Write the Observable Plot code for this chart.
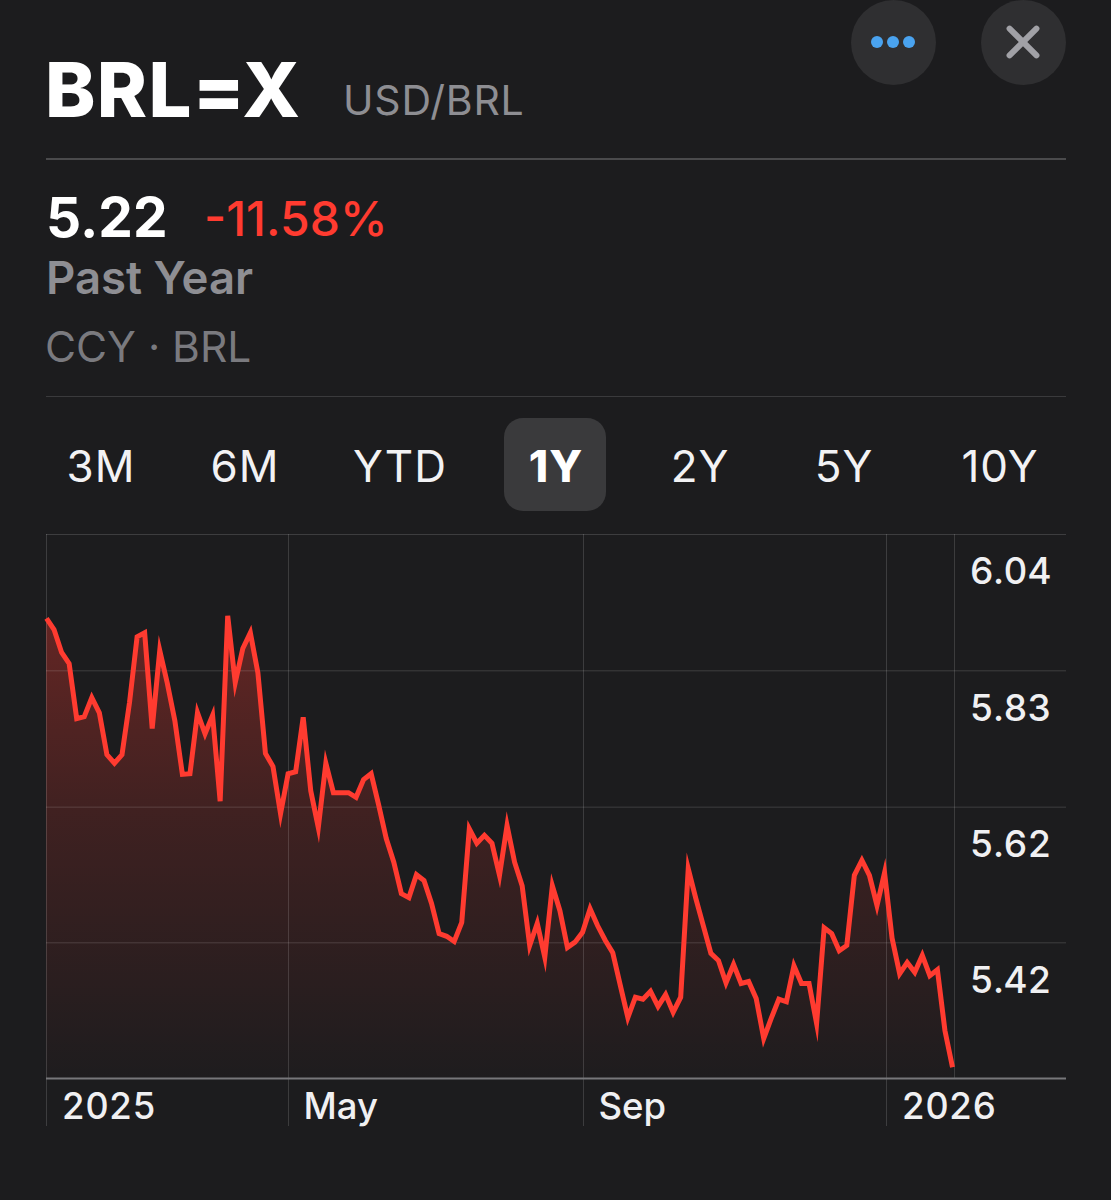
<!DOCTYPE html>
<html>
<head>
<meta charset="utf-8">
<script src="https://cdn.jsdelivr.net/npm/d3@7"></script>
<script src="https://cdn.jsdelivr.net/npm/@observablehq/plot@0.6"></script>
<style>
html,body{margin:0;padding:0;background:#1c1c1e;}
body{width:1111px;height:1200px;overflow:hidden;font-family:Inter,"Noto Sans",sans-serif;}
#header{position:relative;width:1111px;height:530px;}
#header .t{position:absolute;white-space:nowrap;line-height:1;}
.rule{position:absolute;left:46px;width:1020px;}
.circle{position:absolute;top:0;width:85px;height:85px;border-radius:50%;background:#2f2f31;}
.dot{position:absolute;top:36px;width:12px;height:12px;border-radius:50%;background:#4aa3ef;}
.bar{position:absolute;left:39px;top:20px;width:6px;height:44px;border-radius:3px;background:#a1a1a6;}
.sel{position:absolute;left:504px;top:418px;width:102px;height:93px;border-radius:19px;background:#3a3a3c;}
.rng{font-size:44px;font-weight:400;color:#f2f2f4;transform:translateX(-50%);top:444px;letter-spacing:1px;}
#chart{position:absolute;left:-1px;top:530px;}
#chart svg{display:block;}
</style>
</head>
<body>
<div id="header">
  <div class="circle" style="left:851px">
    <div class="dot" style="left:20px"></div><div class="dot" style="left:36px"></div><div class="dot" style="left:52px"></div>
  </div>
  <div class="circle" style="left:981px">
    <div class="bar" style="transform:rotate(45deg)"></div><div class="bar" style="transform:rotate(-45deg)"></div>
  </div>
  <div class="t" style="left:45px;top:51px;font-size:76px;font-weight:800;color:#fff;letter-spacing:1.3px">BRL=X</div>
  <div class="t" style="left:343px;top:80px;font-size:41px;color:#8e8e93;letter-spacing:0.8px">USD/BRL</div>
  <div class="rule" style="top:158px;height:2px;background:#4a4a4c"></div>
  <div class="t" style="left:46px;top:190px;font-size:55px;font-weight:700;color:#fff;">5.22</div>
  <div class="t" style="left:204px;top:195px;font-size:48px;font-weight:500;color:#ff3b30;">-11.58%</div>
  <div class="t" style="left:46px;top:255px;font-size:45.5px;font-weight:600;color:#8e8e93;">Past Year</div>
  <div class="t" style="left:45px;top:326px;font-size:42.5px;color:#7a7a7f;">CCY · BRL</div>
  <div class="rule" style="top:396px;height:1px;background:#3a3a3c"></div>
  <div class="sel"></div>
  <div class="t rng" style="left:101px">3M</div>
  <div class="t rng" style="left:245px">6M</div>
  <div class="t rng" style="left:400px">YTD</div>
  <div class="t rng" style="left:556px;font-weight:800;color:#fff">1Y</div>
  <div class="t rng" style="left:700px">2Y</div>
  <div class="t rng" style="left:844px">5Y</div>
  <div class="t rng" style="left:1000px">10Y</div>
</div>
<div id="chart"></div>
<script>
// USD/BRL close per session
const closes = [
  5.912,5.895,5.860,5.843,5.759,5.762,5.791,5.768,5.704,5.691,
  5.704,5.784,5.884,5.890,5.744,5.863,5.813,5.756,5.674,5.675,
  5.768,5.736,5.764,5.633,5.916,5.814,5.866,5.890,5.829,5.706,
  5.686,5.614,5.675,5.678,5.761,5.649,5.593,5.691,5.646,5.646,
  5.646,5.639,5.666,5.675,5.627,5.576,5.540,5.492,5.486,5.521,
  5.512,5.477,5.431,5.427,5.419,5.448,5.591,5.569,5.581,5.569,
  5.520,5.596,5.540,5.504,5.413,5.447,5.395,5.504,5.466,5.410,
  5.418,5.433,5.469,5.443,5.421,5.402,5.352,5.303,5.334,5.331,
  5.343,5.320,5.338,5.311,5.334,5.530,5.485,5.443,5.401,5.390,
  5.356,5.384,5.355,5.358,5.332,5.271,5.302,5.331,5.327,5.382,
  5.355,5.355,5.294,5.440,5.431,5.405,5.413,5.520,5.543,5.520,
  5.474,5.524,5.424,5.370,5.387,5.372,5.398,5.367,5.376,5.283,
  5.227
];
const sessions = closes.map((_, i) => i);
const rows = sessions.map(i => ({session: i, close: closes[i]}));

const yTicks = [6.04, 5.832, 5.624, 5.417];
const yFloor = 5.21;
const xTicks = [0, 32.05, 71.13, 111.26];
const xLabels = ["2025", "May", "Sep", "2026"];
const xEdge = 120.26;       // session where the price column begins
const xMax = 135.1;

const red = "#ff3b30";
const labelFont = {fontWeight: 500, fill: "#f0f0f2", fontFamily: "Inter, sans-serif"};

const gradient = () => {
  const ns = "http://www.w3.org/2000/svg";
  const defs = document.createElementNS(ns, "defs");
  const g = document.createElementNS(ns, "linearGradient");
  g.setAttribute("id", "fade");
  g.setAttribute("x1", 0); g.setAttribute("x2", 0);
  g.setAttribute("y1", 0); g.setAttribute("y2", 1);
  [[0, 0.32], [0.45, 0.15], [1, 0.01]].forEach(([o, a]) => {
    const s = document.createElementNS(ns, "stop");
    s.setAttribute("offset", o);
    s.setAttribute("stop-color", red);
    s.setAttribute("stop-opacity", a);
    g.appendChild(s);
  });
  defs.appendChild(g);
  return defs;
};

const chart = Plot.plot({
  width: 1112,
  height: 600,
  marginLeft: 47,
  marginRight: 45,
  marginTop: 4,
  marginBottom: 52,
  style: {background: "transparent", overflow: "visible"},
  x: {type: "linear", domain: [0, xMax]},
  y: {type: "linear", domain: [yFloor, yTicks[0]]},
  marks: [
    gradient,
    Plot.areaY(rows, {x: "session", y1: yFloor, y2: "close", fill: "url(#fade)"}),
    Plot.ruleY(yTicks, {stroke: "#ffffff", strokeOpacity: 0.15, strokeWidth: 1}),
    Plot.ruleX(xTicks, {stroke: "#ffffff", strokeOpacity: 0.15, strokeWidth: 1, insetBottom: -48}),
    Plot.ruleX([xEdge], {stroke: "#ffffff", strokeOpacity: 0.15, strokeWidth: 1}),
    Plot.ruleY([yFloor], {stroke: "#77777a", strokeWidth: 2}),
    Plot.lineY(rows, {x: "session", y: "close", stroke: red, strokeWidth: 5, strokeLinejoin: "miter", strokeMiterlimit: 8, strokeLinecap: "butt"}),
    Plot.axisY(yTicks, {
      anchor: "right", tickSize: 0, tickPadding: 0, label: null,
      textAnchor: "end", dx: -15, dy: 38,
      tickFormat: d => d.toFixed(2), fontSize: 37, ...labelFont
    }),
    Plot.axisX(xTicks, {
      anchor: "bottom", tickSize: 0, tickPadding: 0, label: null,
      textAnchor: "start", dx: 15, dy: 15,
      tickFormat: d => xLabels[xTicks.indexOf(d)], fontSize: 36.5, ...labelFont
    })
  ]
});
document.getElementById("chart").appendChild(chart);
</script>
</body>
</html>
